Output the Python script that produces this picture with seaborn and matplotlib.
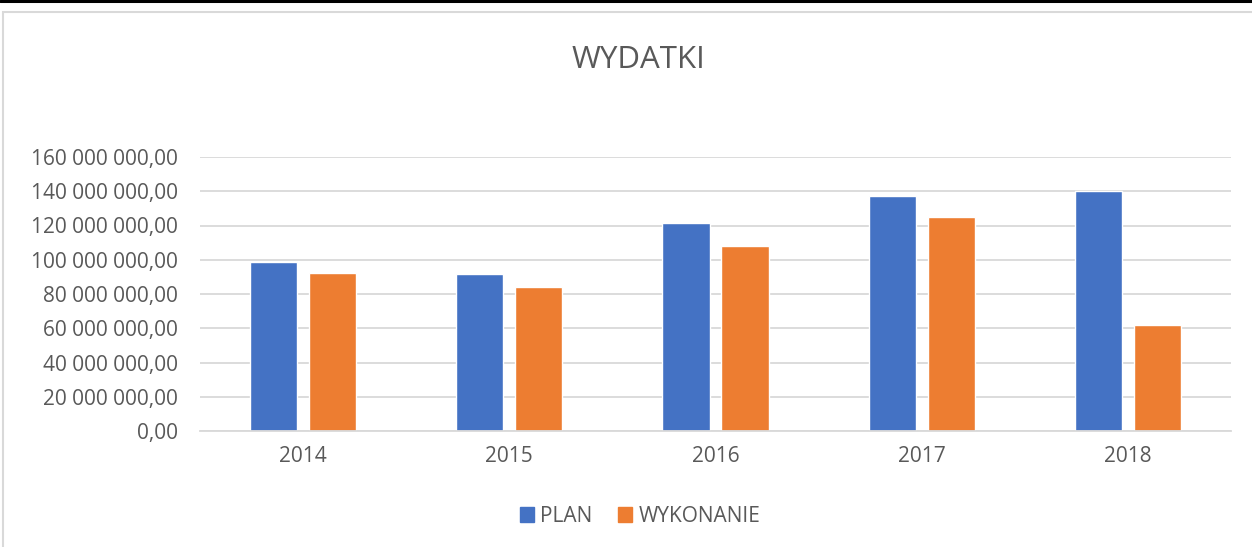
"""
WYDATKI - plan vs wykonanie, grouped bar chart
"""

import pandas as pd
import matplotlib
matplotlib.use("Agg")
import matplotlib.pyplot as plt
from matplotlib.ticker import FuncFormatter, MultipleLocator
from matplotlib.patches import Rectangle
from matplotlib.lines import Line2D
import seaborn as sns

# Data
years = ["2014", "2015", "2016", "2017", "2018"]
plan = [98.7e6, 91.9e6, 121.3e6, 137.2e6, 140.3e6]
wykonanie = [92.3e6, 84.1e6, 108.2e6, 124.8e6, 61.7e6]
series_names = ["PLAN", "WYKONANIE"]
colors = ["#4472C4", "#ED7D31"]

df = pd.DataFrame({
    "Rok": years * 2,
    "Kwota": plan + wykonanie,
    "Seria": [series_names[0]] * len(years) + [series_names[1]] * len(years),
})

sns.set_style("white")
plt.rcParams['font.family'] = ['Open Sans', 'DejaVu Sans']
text_color = "#595959"

fig = plt.figure(figsize=(12.52, 5.47), dpi=100)
ax = fig.add_axes([200 / 1252, 1 - 431 / 547, 1031 / 1252, 274 / 547])

sns.barplot(data=df, x="Rok", y="Kwota", hue="Seria", palette=colors,
            saturation=1, width=0.573, gap=0.203, ax=ax, legend=False)

ax.set_ylim(0, 160e6)
ax.yaxis.set_major_locator(MultipleLocator(20e6))


def pl_format(v, pos):
    s = f"{v:,.2f}"
    return s.replace(",", " ").replace(".", ",")


ax.yaxis.set_major_formatter(FuncFormatter(pl_format))
ax.grid(axis='y', color="#D9D9D9", linewidth=1.3)
ax.set_axisbelow(True)
for side in ["top", "right", "left"]:
    ax.spines[side].set_visible(False)
ax.spines["bottom"].set_color("#D9D9D9")
ax.spines["bottom"].set_linewidth(1.3)
ax.tick_params(axis='both', length=0, labelsize=15, labelcolor=text_color)
ax.tick_params(axis='y', pad=16)
ax.tick_params(axis='x', pad=11)
ax.set_xlabel("")
ax.set_ylabel("")

fig.text(638 / 1252, 1 - 60 / 547, "WYDATKI", ha="center", va="center",
         fontsize=22.5, color=text_color)

handles = [Rectangle((0, 0), 1, 1, color=c) for c in colors]
fig.legend(handles, series_names, loc="center", bbox_to_anchor=(640 / 1252, 1 - 516 / 547),
           ncol=2, frameon=False, fontsize=15, labelcolor=text_color,
           handlelength=0.7, handleheight=0.7, handletextpad=0.3, columnspacing=1.2)

# chart frame and the table line above it
fig.add_artist(Rectangle((3 / 1252, -0.05), 1.1, 1 - 12 / 547 + 0.05, transform=fig.transFigure,
                         fill=False, edgecolor="#D9D9D9", linewidth=1.5))
fig.add_artist(Line2D([0, 1], [1 - 1 / 547, 1 - 1 / 547], transform=fig.transFigure,
                      color="black", linewidth=2.2))

fig.savefig("out.png", dpi=100)
